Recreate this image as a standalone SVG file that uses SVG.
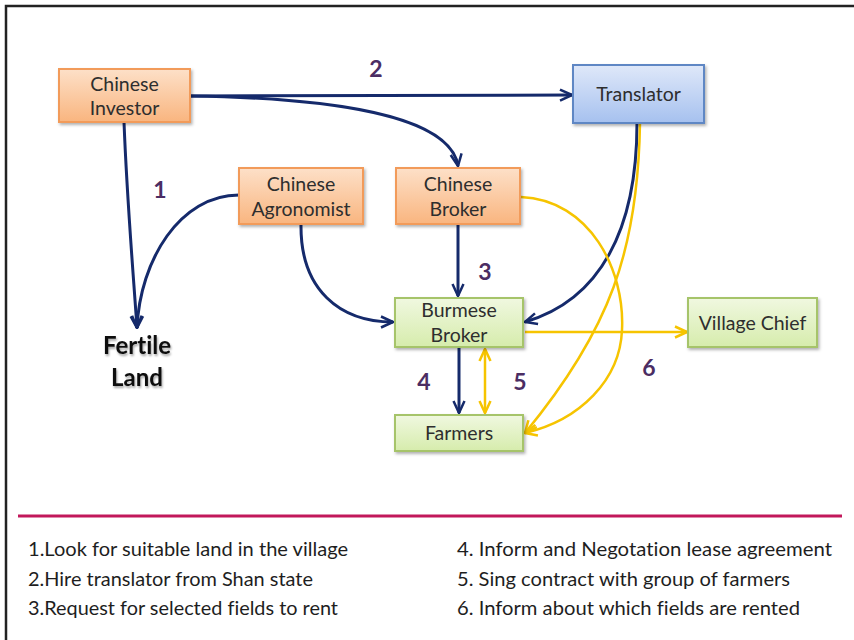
<svg xmlns="http://www.w3.org/2000/svg" width="854" height="640" viewBox="0 0 854 640">
  <style>
    text { font-variant-ligatures: none; }
    .lbl { font-family: Lato, "Liberation Sans", sans-serif; font-size: 19.5px; fill: #2e2e2e; text-anchor: middle; }
    .num { font-family: Lato, "Liberation Sans", sans-serif; font-size: 23px; font-weight: bold; fill: #4b2d63; text-anchor: middle; }
    .land { font-family: Lato, "Liberation Sans", sans-serif; font-size: 24px; font-weight: bold; fill: #111; text-anchor: middle; }
    .leg { font-family: Lato, "Liberation Sans", sans-serif; font-size: 19px; fill: #1e1e1e; }
    .orange { fill: url(#gOrange); stroke: #f29b5a; stroke-width: 2; }
    .blue { fill: url(#gBlue); stroke: #5f87c4; stroke-width: 2; }
    .green { fill: url(#gGreen); stroke: #a6c46a; stroke-width: 2; }
    .navy { fill: none; stroke: #152a6b; stroke-width: 3; marker-end: url(#arrNavy); }
    .gold { fill: none; stroke: #f6c400; stroke-width: 2.5; marker-end: url(#arrGold); }
  </style>
  <defs>
    <linearGradient id="gOrange" x1="0" y1="0" x2="0" y2="1">
      <stop offset="0" stop-color="#fde0c8"/>
      <stop offset="1" stop-color="#f9b57f"/>
    </linearGradient>
    <linearGradient id="gBlue" x1="0" y1="0" x2="0" y2="1">
      <stop offset="0" stop-color="#dfe8f9"/>
      <stop offset="1" stop-color="#a6c1ef"/>
    </linearGradient>
    <linearGradient id="gGreen" x1="0" y1="0" x2="0" y2="1">
      <stop offset="0" stop-color="#f0f8e0"/>
      <stop offset="1" stop-color="#d6ecac"/>
    </linearGradient>
    <filter id="shadow" x="-10%" y="-10%" width="125%" height="135%">
      <feDropShadow dx="1.5" dy="2" stdDeviation="1.5" flood-color="#000" flood-opacity="0.3"/>
    </filter>
    <filter id="txtShadow" x="-10%" y="-20%" width="130%" height="150%">
      <feDropShadow dx="1" dy="2" stdDeviation="1.2" flood-color="#000" flood-opacity="0.35"/>
    </filter>
    <marker id="arrNavy" viewBox="0 0 14 14" refX="13" refY="7" markerWidth="14" markerHeight="14" markerUnits="userSpaceOnUse" orient="auto">
      <path d="M1,1.5 L13,7 L1,12.5" fill="none" stroke="#152a6b" stroke-width="2.5"/>
    </marker>
    <marker id="arrGold" viewBox="0 0 14 14" refX="13" refY="7" markerWidth="14" markerHeight="14" markerUnits="userSpaceOnUse" orient="auto">
      <path d="M1,1.5 L13,7 L1,12.5" fill="none" stroke="#f6c400" stroke-width="2.5"/>
    </marker>
    <marker id="arrGoldStart" viewBox="0 0 14 14" refX="1" refY="7" markerWidth="14" markerHeight="14" markerUnits="userSpaceOnUse" orient="auto">
      <path d="M13,1.5 L1,7 L13,12.5" fill="none" stroke="#f6c400" stroke-width="2.5"/>
    </marker>
  </defs>

  <rect width="854" height="640" fill="#fff"/>
  <!-- outer frame -->
  <path d="M6,640 L6,6 L854,6" fill="none" stroke="#222" stroke-width="2.5"/>

  <!-- connectors -->
  <g id="connectors">
    <!-- navy: steps 1-4 -->
    <path class="navy" d="M124,122 C127,200 133,270 137,328"/>
    <path class="navy" d="M239,195 C180,195 140,260 137,328"/>
    <path class="navy" d="M190,96 L572,95"/>
    <path class="navy" d="M190,96 C330,98 450,115 458,166"/>
    <path class="navy" d="M301,224 C300,290 340,322 393,322"/>
    <path class="navy" d="M458,224 L458,296"/>
    <path class="navy" d="M637,123 C637,230 600,300 525,322"/>
    <path class="navy" d="M459,347 L459,413"/>
    <!-- gold: steps 5-6 -->
    <path class="gold" d="M485,349 L485,413" marker-start="url(#arrGoldStart)"/>
    <path class="gold" d="M525,332 L687,332"/>
    <path class="gold" d="M521,197 C590,200 625,270 622,330 C620,380 580,420 525,433"/>
    <path class="gold" d="M640,123 C638,250 610,330 525,433"/>
  </g>

  <!-- step numbers -->
  <g id="step-numbers">
    <text class="num" x="160" y="198">1</text>
    <text class="num" x="376" y="77">2</text>
    <text class="num" x="485" y="280">3</text>
    <text class="num" x="424" y="390">4</text>
    <text class="num" x="520" y="390">5</text>
    <text class="num" x="649" y="376">6</text>
  </g>

  <g id="chinese-investor">
    <rect class="orange" x="59" y="69" width="131" height="53" filter="url(#shadow)"/>
    <text class="lbl" x="124.5" y="91">Chinese</text>
    <text class="lbl" x="124.5" y="115">Investor</text>
  </g>

  <g id="translator">
    <rect class="blue" x="573" y="65" width="131" height="58" filter="url(#shadow)"/>
    <text class="lbl" x="638.5" y="101">Translator</text>
  </g>

  <g id="chinese-agronomist">
    <rect class="orange" x="239" y="168" width="124" height="56" filter="url(#shadow)"/>
    <text class="lbl" x="301" y="191">Chinese</text>
    <text class="lbl" x="301" y="216">Agronomist</text>
  </g>

  <g id="chinese-broker">
    <rect class="orange" x="396" y="168" width="124" height="56" filter="url(#shadow)"/>
    <text class="lbl" x="458" y="191">Chinese</text>
    <text class="lbl" x="458" y="216">Broker</text>
  </g>

  <g id="burmese-broker">
    <rect class="green" x="395" y="298" width="128" height="49" filter="url(#shadow)"/>
    <text class="lbl" x="459" y="317">Burmese</text>
    <text class="lbl" x="459" y="342">Broker</text>
  </g>

  <g id="village-chief">
    <rect class="green" x="688" y="298" width="129" height="49" filter="url(#shadow)"/>
    <text class="lbl" x="752.5" y="330">Village Chief</text>
  </g>

  <g id="farmers">
    <rect class="green" x="395" y="415" width="128" height="36" filter="url(#shadow)"/>
    <text class="lbl" x="459" y="440">Farmers</text>
  </g>

  <g id="fertile-land" filter="url(#txtShadow)">
    <text class="land" x="137" y="354">Fertile</text>
    <text class="land" x="137" y="386">Land</text>
  </g>

  <!-- legend -->
  <line x1="18" y1="516" x2="842" y2="516" stroke="#c2185b" stroke-width="3"/>
  <g id="legend">
    <text class="leg" x="28" y="556" textLength="320" lengthAdjust="spacingAndGlyphs">1.Look for suitable land in the village</text>
    <text class="leg" x="28" y="586" textLength="285" lengthAdjust="spacingAndGlyphs">2.Hire translator from Shan state</text>
    <text class="leg" x="28" y="615" textLength="310" lengthAdjust="spacingAndGlyphs">3.Request for selected fields to rent</text>
    <text class="leg" x="457" y="556" textLength="375" lengthAdjust="spacingAndGlyphs">4. Inform and Negotation lease agreement</text>
    <text class="leg" x="457" y="586" textLength="333" lengthAdjust="spacingAndGlyphs">5. Sing contract with group of farmers</text>
    <text class="leg" x="457" y="615" textLength="343" lengthAdjust="spacingAndGlyphs">6. Inform about which fields are rented</text>
  </g>
</svg>
